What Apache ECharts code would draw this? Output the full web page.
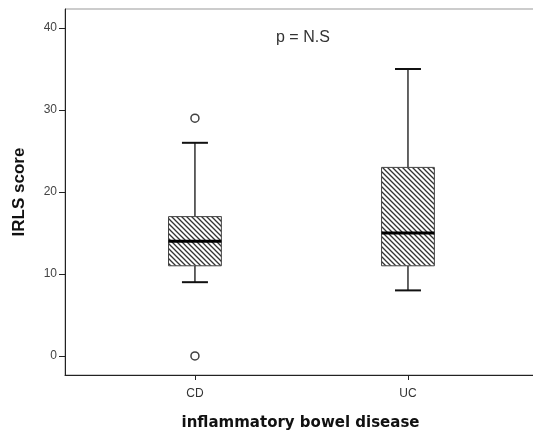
<!DOCTYPE html>
<html><head><meta charset="utf-8">
<script src="https://cdn.jsdelivr.net/npm/echarts@6/dist/echarts.min.js"></script>
<style>html,body{margin:0;padding:0;background:#fff}#c{width:533px;height:431px}</style>
</head><body><div id="c"></div>
<script>
// Data
const categories = ['CD', 'UC'];
const lowWhisker = [9, 8];
const q1 = [11, 11];
const median = [14, 15];
const q3 = [17, 23];
const highWhisker = [26, 35];
const outliers = [[1, 29], [1, 0]]; // [category position, value]
const yTicks = [0, 10, 20, 30, 40];

const boxData = categories.map((c, i) => [i + 1, lowWhisker[i], q1[i], median[i], q3[i], highWhisker[i]]);

// hatch pattern
const pc = document.createElement('canvas');
pc.width = 5; pc.height = 5;
const g = pc.getContext('2d');
g.fillStyle = '#fff'; g.fillRect(0, 0, 5, 5);
g.strokeStyle = '#333'; g.lineWidth = 1.3;
g.beginPath();
g.moveTo(-1, -1); g.lineTo(6, 6);
g.moveTo(-1, 4); g.lineTo(1, 6);
g.moveTo(4, -1); g.lineTo(6, 1);
g.stroke();

const chart = echarts.init(document.getElementById('c'), null, {renderer: 'canvas'});
const BOX_HW = 0.124, CAP_HW = 0.061;
chart.setOption({
  animation: false,
  grid: {left: 65, right: -3, top: 9, bottom: 56, show: true, borderColor: '#999', borderWidth: 1, containLabel: false, outerBoundsMode: 'none'},
  title: {text: 'p = N.S', left: 271, top: 25, textStyle: {fontFamily: 'Liberation Sans', fontSize: 16, fontWeight: 'normal', color: '#333'}},
  xAxis: {
    type: 'value', min: 0.39, max: 2.601,
    name: 'inflammatory bowel disease', nameLocation: 'middle', nameGap: 41,
    nameTextStyle: {fontFamily: 'DejaVu Sans', fontWeight: 'bold', fontSize: 15, color: '#111'},
    axisLine: {onZero: false, lineStyle: {color: '#222', width: 1}},
    axisTick: {show: true, length: 5, customValues: [1, 2], lineStyle: {color: '#222'}},
    axisLabel: {customValues: [1, 2], formatter: v => categories[Math.round(v) - 1] || '', fontFamily: 'Liberation Sans', fontSize: 12, color: '#333', margin: 13},
    splitLine: {show: false}
  },
  yAxis: {
    type: 'value', min: -2.32, max: 42.32,
    name: 'IRLS score', nameLocation: 'middle', nameGap: 37, nameRotate: 90,
    nameTextStyle: {fontFamily: 'Liberation Sans', fontWeight: 'bold', fontSize: 17, color: '#111'},
    axisLine: {show: true, onZero: false, lineStyle: {color: '#222', width: 1}},
    axisTick: {show: true, length: 6, customValues: yTicks, lineStyle: {color: '#222'}},
    axisLabel: {customValues: yTicks, fontFamily: 'Liberation Sans', fontSize: 12, color: '#444', margin: 8},
    splitLine: {show: false}
  },
  series: [{
    type: 'custom',
    data: boxData,
    renderItem: function (params, api) {
      const x = api.value(0);
      const lo = api.coord([x, api.value(1)]);
      const a = api.coord([x, api.value(2)]);
      const m = api.coord([x, api.value(3)]);
      const b = api.coord([x, api.value(4)]);
      const hi = api.coord([x, api.value(5)]);
      const xl = api.coord([x - BOX_HW, 0])[0], xr = api.coord([x + BOX_HW, 0])[0];
      const cl = api.coord([x - CAP_HW, 0])[0], cr = api.coord([x + CAP_HW, 0])[0];
      const ls = {stroke: '#111', lineWidth: 1.3};
      return {type: 'group', children: [
        {type: 'line', shape: {x1: lo[0], y1: lo[1], x2: a[0], y2: a[1]}, style: ls},
        {type: 'line', shape: {x1: b[0], y1: b[1], x2: hi[0], y2: hi[1]}, style: ls},
        {type: 'line', shape: {x1: cl, y1: lo[1], x2: cr, y2: lo[1]}, style: {stroke: '#111', lineWidth: 2}},
        {type: 'line', shape: {x1: cl, y1: hi[1], x2: cr, y2: hi[1]}, style: {stroke: '#111', lineWidth: 2}},
        {type: 'rect', shape: {x: xl, y: b[1], width: xr - xl, height: a[1] - b[1]}, style: {fill: {image: pc, repeat: 'repeat'}, stroke: '#444', lineWidth: 1}},
        {type: 'line', shape: {x1: xl, y1: m[1], x2: xr, y2: m[1]}, style: {stroke: '#000', lineWidth: 3}}
      ]};
    }
  }, {
    type: 'scatter',
    data: outliers,
    symbol: 'circle', symbolSize: 8,
    itemStyle: {color: '#fff', borderColor: '#111', borderWidth: 1.5}
  }]
});
</script></body></html>
